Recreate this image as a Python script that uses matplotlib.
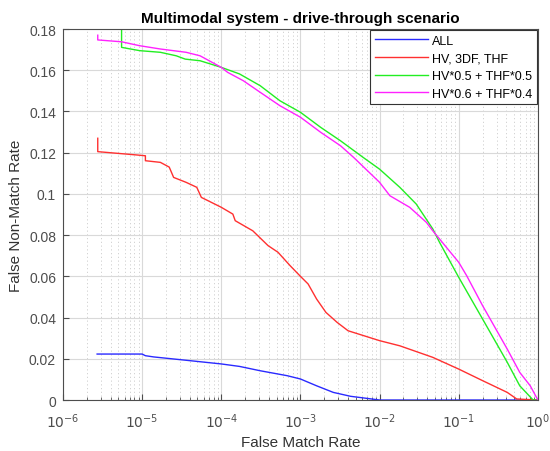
import matplotlib
matplotlib.use('Agg')
import matplotlib.pyplot as plt
from matplotlib.ticker import LogLocator, NullFormatter

plt.rcParams['font.family'] = ['Liberation Sans', 'DejaVu Sans']

# False Match Rate / False Non-Match Rate values
fmr_all = [2.7e-6, 1e-5, 1.1e-5, 1.4e-5, 4e-5, 1e-4, 1.7e-4, 3.1e-4, 6.8e-4, 1e-3,
           1.6e-3, 2.6e-3, 4.3e-3, 6.9e-3, 1e-2, 1.0]
fnmr_all = [0.0223, 0.0223, 0.0215, 0.0209, 0.0191, 0.0175, 0.0163, 0.0142, 0.0118, 0.0102,
            0.0069, 0.0037, 0.0018, 0.0008, 0.0, 0.0]

fmr_hv3 = [2.75e-6, 2.75e-6, 8.5e-6, 1.1e-5, 1.1e-5, 1.7e-5, 2.2e-5, 2.5e-5, 3.6e-5, 4.9e-5,
           5.6e-5, 1e-4, 1.4e-4, 1.5e-4, 2.5e-4, 3.9e-4, 5.2e-4, 7.4e-4, 1e-3, 1.25e-3,
           1.6e-3, 2.1e-3, 2.9e-3, 4e-3, 1e-2, 1.8e-2, 4.7e-2, 1e-1, 0.2, 0.41, 0.54, 1.0]
fnmr_hv3 = [0.127, 0.1205, 0.1189, 0.1185, 0.1161, 0.1153, 0.113, 0.108, 0.1056, 0.1032,
            0.0983, 0.0935, 0.0902, 0.087, 0.0821, 0.0749, 0.0717, 0.0652, 0.0600, 0.0563,
            0.049, 0.0425, 0.0377, 0.0336, 0.0288, 0.0263, 0.0207, 0.015, 0.0094, 0.0037, 0.0005, 0.0]

fmr_hv5 = [5.5e-6, 5.5e-6, 9.3e-6, 1.7e-5, 2.7e-5, 3.5e-5, 5.4e-5, 1e-4, 1.7e-4, 3.1e-4,
           5.5e-4, 1e-3, 1.8e-3, 3.2e-3, 6.2e-3, 1e-2, 1.8e-2, 2.9e-2, 4.7e-2, 5.7e-2,
           1e-1, 0.2, 0.41, 0.59, 0.87, 1.0]
fnmr_hv5 = [0.19, 0.1711, 0.1695, 0.1687, 0.167, 0.1654, 0.1646, 0.1614, 0.1582, 0.1525,
            0.1452, 0.1396, 0.1323, 0.1258, 0.1177, 0.112, 0.1032, 0.0951, 0.083, 0.0766,
            0.0595, 0.0393, 0.0183, 0.0069, 0.0, 0.0]

fmr_hv6 = [2.75e-6, 2.75e-6, 5.5e-6, 9.3e-6, 1.7e-5, 3.6e-5, 5.4e-5, 1e-4, 1.2e-4, 1.9e-4,
           3.1e-4, 5.5e-4, 1e-3, 1.8e-3, 3.2e-3, 4.7e-3, 1e-2, 1.35e-2, 2.4e-2, 3.9e-2,
           4.7e-2, 1e-1, 0.126, 0.2, 0.41, 0.59, 0.8, 1.0]
fnmr_hv6 = [0.177, 0.1747, 0.1738, 0.1719, 0.1703, 0.1687, 0.167, 0.1614, 0.159, 0.1549,
            0.1493, 0.1428, 0.1372, 0.1299, 0.1234, 0.1177, 0.1056, 0.0991, 0.0935, 0.0862,
            0.0821, 0.0668, 0.0603, 0.0458, 0.0247, 0.0134, 0.0069, 0.0]

x_ticks = [1e-6, 1e-5, 1e-4, 1e-3, 1e-2, 1e-1, 1e0]
x_labels = ['$10^{-6}$', '$10^{-5}$', '$10^{-4}$', '$10^{-3}$', '$10^{-2}$', '$10^{-1}$', '$10^{0}$']
y_ticks = [0, 0.02, 0.04, 0.06, 0.08, 0.1, 0.12, 0.14, 0.16, 0.18]
y_labels = ['0', '0.02', '0.04', '0.06', '0.08', '0.1', '0.12', '0.14', '0.16', '0.18']

fig = plt.figure(figsize=(5.5, 4.52), dpi=100)
ax = fig.add_axes([0.1145, 0.1128, 0.8635, 0.8208])

ax.semilogx(fmr_all, fnmr_all, color='#2a2aff', lw=1, label='ALL')
ax.semilogx(fmr_hv3, fnmr_hv3, color='#ff3030', lw=1, label='HV, 3DF, THF')
ax.semilogx(fmr_hv5, fnmr_hv5, color='#22ee22', lw=1, label='HV*0.5 + THF*0.5')
ax.semilogx(fmr_hv6, fnmr_hv6, color='#ff22ff', lw=1, label='HV*0.6 + THF*0.4')

ax.set_xlim(1e-6, 1)
ax.set_ylim(0, 0.18)
ax.set_yticks(y_ticks)
ax.set_yticklabels(y_labels)
ax.set_xticks(x_ticks)
ax.set_xticklabels(x_labels)
ax.xaxis.set_minor_locator(LogLocator(base=10, subs=range(2, 10), numticks=20))
ax.xaxis.set_minor_formatter(NullFormatter())

ax.grid(True, which='major', color='#d9d9d9', lw=0.8, ls='-')
ax.grid(True, which='minor', axis='x', color='#cccccc', lw=0.6, ls=(0, (1.5, 3)))
ax.set_axisbelow(True)

ax.tick_params(which='both', direction='in', colors='#4d4d4d', labelsize=10,
               top=False, right=False)
ax.tick_params(which='major', length=4)
ax.tick_params(which='minor', length=2)
ax.tick_params(axis='x', which='major', pad=8)
ax.tick_params(axis='y', which='major', pad=5)
for s in ax.spines.values():
    s.set_color('#4d4d4d')
    s.set_linewidth(0.8)

ax.set_title('Multimodal system - drive-through scenario', fontsize=11,
             fontweight='bold', pad=5)
ax.set_xlabel('False Match Rate', fontsize=11, color='#333333', labelpad=4)
ax.set_ylabel('False Non-Match Rate', fontsize=11, color='#333333', labelpad=4)

leg = ax.legend(loc='upper right', fontsize=9, fancybox=False, framealpha=1,
                edgecolor='#333333', borderaxespad=0.1, handlelength=4.3,
                borderpad=0.35, labelspacing=0.45, handletextpad=0.3)
leg.get_frame().set_linewidth(0.8)

fig.savefig('out.png', dpi=100)
